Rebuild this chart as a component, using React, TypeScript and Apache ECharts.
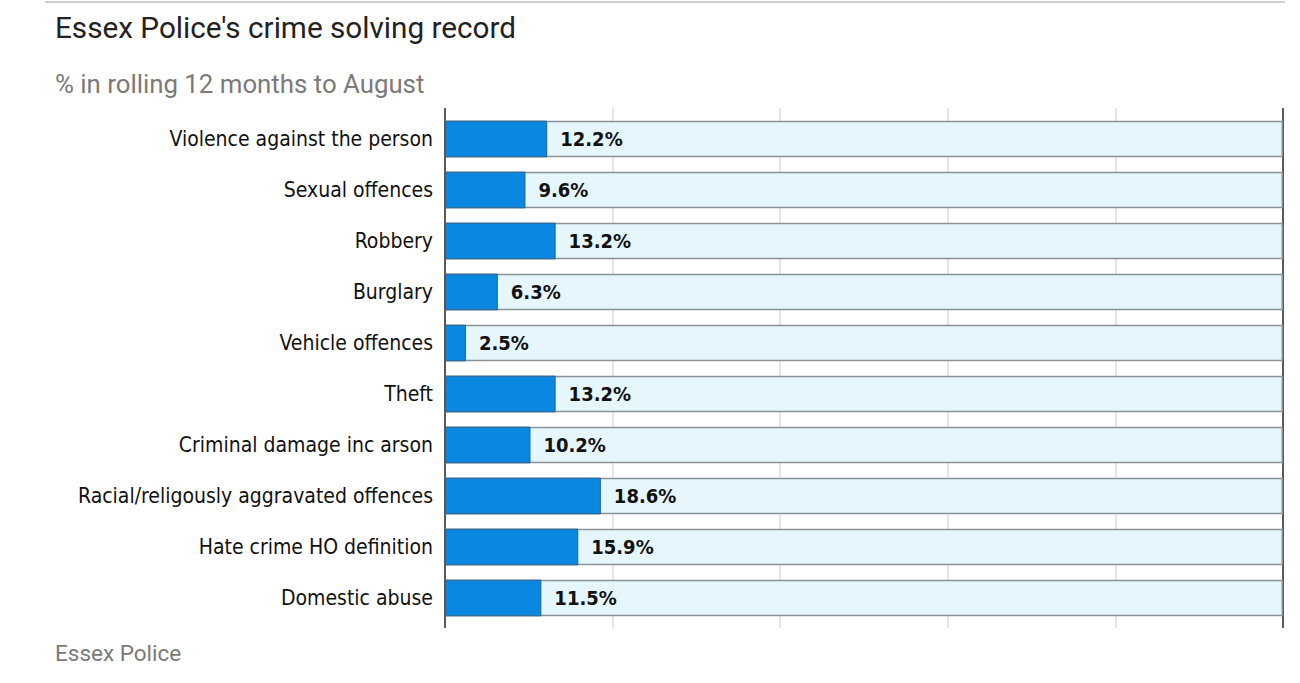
import React, { useEffect, useRef } from "react";
import * as echarts from "echarts";

const categories = [
  "Violence against the person",
  "Sexual offences",
  "Robbery",
  "Burglary",
  "Vehicle offences",
  "Theft",
  "Criminal damage inc arson",
  "Racial/religously aggravated offences",
  "Hate crime HO definition",
  "Domestic abuse",
];
const values = [12.2, 9.6, 13.2, 6.3, 2.5, 13.2, 10.2, 18.6, 15.9, 11.5];
const fullValue = 100;
const xTicks = [0, 20, 40, 60, 80, 100];

const TITLE = "Essex Police's crime solving record";
const SUBTITLE = "% in rolling 12 months to August";
const SOURCE = "Essex Police";

const condensed = "'DejaVu Sans Condensed', 'Roboto', sans-serif";
const heading = "Roboto, 'Open Sans', sans-serif";

export default function App() {
  const ref = useRef<HTMLDivElement>(null);
  useEffect(() => {
    document.body.style.margin = "0";
    const chart = echarts.init(ref.current!, null, { renderer: "svg" });
    const gridLeft = 445;
    const gridRight = 17;
    const option = {
      animation: false,
      backgroundColor: "#ffffff",
      title: [
        {
          text: TITLE,
          left: 50,
          top: 7,
          textStyle: { fontFamily: heading, fontSize: 29.7, fontWeight: "normal", color: "#222222" },
        },
        {
          text: SUBTITLE,
          left: 50,
          top: 66,
          textStyle: { fontFamily: heading, fontSize: 25.8, fontWeight: "normal", color: "#7a7a7a" },
        },
        {
          text: SOURCE,
          left: 50,
          top: 636,
          textStyle: { fontFamily: heading, fontSize: 22.5, fontWeight: "normal", color: "#7a7a7a" },
        },
      ],
      graphic: [
        {
          type: "line",
          shape: { x1: 45, y1: 2, x2: 1285, y2: 2 },
          style: { stroke: "#cfcfcf", lineWidth: 2 },
        },
      ],
      grid: [
        { left: gridLeft, right: gridRight, top: 113.5, height: 510, containLabel: false },
        { left: gridLeft, right: gridRight, top: 108, height: 520, containLabel: false },
      ],
      xAxis: [
        {
          gridIndex: 0,
          type: "value",
          min: xTicks[0],
          max: xTicks[xTicks.length - 1],
          interval: 20,
          axisLine: { show: false },
          axisTick: { show: false },
          axisLabel: { show: false },
          splitLine: { show: false },
        },
        {
          gridIndex: 1,
          type: "value",
          min: xTicks[0],
          max: xTicks[xTicks.length - 1],
          interval: 20,
          axisLine: { show: false },
          axisTick: { show: false },
          axisLabel: { show: false },
          splitLine: {
            show: true,
            lineStyle: { color: ["#222222", "#dddddd", "#dddddd", "#dddddd", "#dddddd", "#222222"], width: 1.5 },
          },
        },
      ],
      yAxis: [
        {
          gridIndex: 0,
          type: "category",
          data: categories,
          inverse: true,
          axisLine: { show: false },
          axisTick: { show: false },
          splitLine: { show: false },
          axisLabel: {
            margin: 12,
            fontFamily: condensed,
            fontSize: 21,
            color: "#111111",
          },
        },
        {
          gridIndex: 1,
          type: "category",
          data: [""],
          show: false,
        },
      ],
      series: [
        {
          type: "bar",
          xAxisIndex: 0,
          yAxisIndex: 0,
          data: categories.map(() => fullValue),
          barWidth: "72%",
          barGap: "-100%",
          silent: true,
          itemStyle: { color: "#e5f6fd", borderColor: "#8c9296", borderWidth: 1.5 },
          z: 1,
        },
        {
          type: "bar",
          xAxisIndex: 0,
          yAxisIndex: 0,
          data: values,
          barWidth: "72%",
          barGap: "-100%",
          itemStyle: { color: "#0a87e1", borderColor: "#2f5f86", borderWidth: 1 },
          label: {
            show: true,
            position: "right",
            distance: 13,
            formatter: (p: any) => `${p.value.toFixed(1)}%`,
            fontFamily: condensed,
            fontSize: 20,
            fontWeight: "bold",
            color: "#111111",
          },
          z: 3,
        },
      ],
    };
    chart.setOption(option);
    return () => chart.dispose();
  }, []);
  return <div ref={ref} style={{ width: 1300, height: 683 }} />;
}
